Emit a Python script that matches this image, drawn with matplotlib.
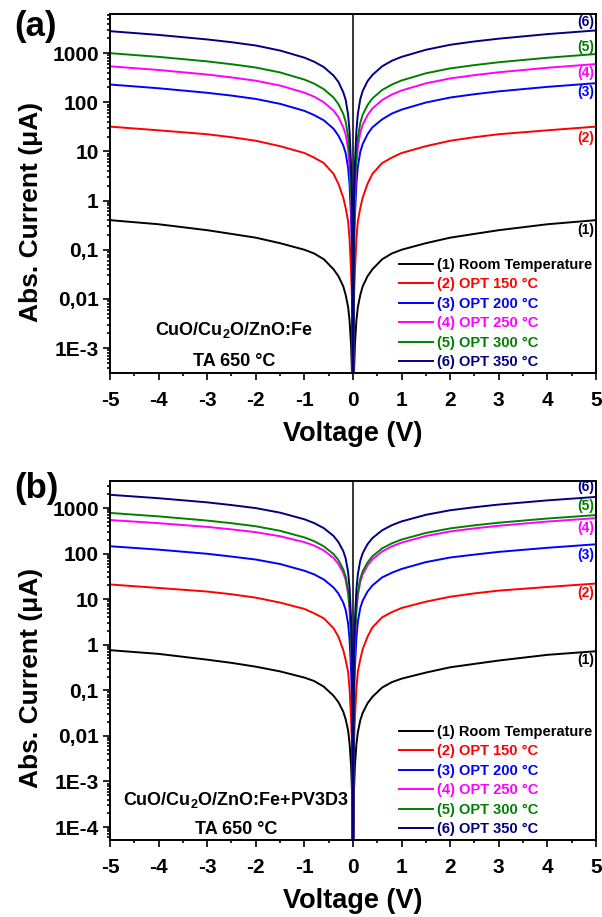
"""Abs. current vs voltage for CuO/Cu2O/ZnO:Fe diodes, two panels."""

import matplotlib

matplotlib.use("Agg")
import matplotlib.pyplot as plt
from matplotlib.ticker import FixedLocator, FuncFormatter, LogLocator, MultipleLocator

plt.rcParams["font.family"] = ["Liberation Sans", "DejaVu Sans"]
plt.rcParams["font.weight"] = "bold"
plt.rcParams["mathtext.fontset"] = "custom"
plt.rcParams["mathtext.rm"] = "Liberation Sans:bold"
plt.rcParams["mathtext.bf"] = "Liberation Sans:bold"
plt.rcParams["mathtext.default"] = "bf"

# ---- data -----------------------------------------------------------------
voltage = [-5, -4, -3, -2.5, -2, -1.5, -1, -0.8, -0.6, -0.4, -0.3, -0.2, -0.15,
           -0.1, -0.07, -0.04, -0.02,
           0,
           0.02, 0.04, 0.07, 0.1, 0.15, 0.2, 0.3, 0.4, 0.6, 0.8, 1, 1.5, 2,
           2.5, 3, 4, 5]

labels = ["(1) Room Temperature", "(2) OPT 150 °C", "(3) OPT 200 °C",
          "(4) OPT 250 °C", "(5) OPT 300 °C", "(6) OPT 350 °C"]
tags = ["(1)", "(2)", "(3)", "(4)", "(5)", "(6)"]

# panel (a): CuO/Cu2O/ZnO:Fe, current in uA
a_rt = [0.40, 0.33, 0.25, 0.21, 0.176, 0.136, 0.10, 0.084, 0.064, 0.04, 0.029,
        0.018, 0.012, 0.0068, 0.0036, 0.0012, 0.0003,
        1e-6,
        0.0003, 0.0012, 0.0036, 0.0068, 0.012, 0.018, 0.029, 0.04, 0.064,
        0.084, 0.10, 0.136, 0.176, 0.21, 0.25, 0.33, 0.40]
a_150 = [32, 26.9, 22.4, 19.5, 16.5, 12.8, 9.3, 7.5, 5.8, 3.5, 2.2, 1.15, 0.7,
         0.38, 0.16, 0.038, 0.01,
         1e-6,
         0.01, 0.038, 0.16, 0.38, 0.7, 1.15, 2.2, 3.5, 5.8, 7.5, 9.3, 12.8,
         16.5, 19.5, 22.4, 26.9, 32]
a_200 = [230, 193, 156, 137, 117, 93, 67, 55, 43, 29, 21, 13.3, 9.2, 4.6, 2.1,
         0.46, 0.09,
         1e-6,
         0.1, 0.49, 2.2, 4.9, 9.8, 14.2, 22.5, 31, 45, 59, 71, 99, 125, 146,
         167, 206, 245]
a_250 = [540, 454, 367, 321, 275, 219, 157, 130, 100, 68, 50, 31, 22, 11, 4.9,
         1.1, 0.22,
         1e-6,
         0.24, 1.2, 5.4, 12, 24, 35, 55, 75, 111, 144, 174, 243, 306, 357,
         408, 504, 600]
a_300 = [1000, 840, 680, 595, 510, 405, 290, 240, 185, 125, 92, 58, 40, 20, 9,
         2, 0.4,
         1e-6,
         0.38, 1.9, 8.6, 19, 38, 56, 88, 120, 178, 230, 278, 389, 490, 571,
         653, 806, 960]
a_350 = [2800, 2350, 1900, 1670, 1430, 1130, 810, 670, 520, 350, 260, 160, 112,
         56, 25, 5.6, 1.1,
         1e-6,
         1.2, 5.8, 26, 58, 116, 170, 270, 360, 540, 700, 840, 1170, 1480, 1730,
         1970, 2440, 2900]

# panel (b): CuO/Cu2O/ZnO:Fe+PV3D3, current in uA
b_rt = [0.76, 0.63, 0.47, 0.40, 0.33, 0.26, 0.19, 0.16, 0.12, 0.076, 0.055,
        0.034, 0.023, 0.013, 0.0068, 0.0023, 0.0006,
        1e-6,
        0.0006, 0.0022, 0.0065, 0.012, 0.022, 0.032, 0.052, 0.072, 0.115,
        0.151, 0.18, 0.245, 0.32, 0.38, 0.45, 0.60, 0.72]
b_150 = [21, 17.6, 14.7, 12.8, 10.8, 8.4, 6.1, 4.9, 3.8, 2.3, 1.5, 0.76, 0.46,
         0.25, 0.105, 0.025, 0.0063,
         1e-6,
         0.0066, 0.026, 0.11, 0.26, 0.48, 0.8, 1.5, 2.4, 4.0, 5.2, 6.4, 8.8,
         11.3, 13.4, 15.4, 18.5, 22]
b_200 = [145, 122, 99, 86, 74, 59, 42, 35, 27, 18, 13.3, 8.4, 5.8, 2.9, 1.3,
         0.29, 0.058,
         1e-6,
         0.064, 0.32, 1.4, 3.2, 6.4, 9.3, 14.7, 20, 30, 38, 46, 65, 82, 95,
         109, 134, 160]
b_250 = [545, 465, 385, 340, 295, 240, 178, 150, 117, 80, 59, 38, 26, 13, 5.8,
         1.3, 0.26,
         1e-6,
         0.24, 1.2, 5.4, 12, 24, 35, 55, 75, 111, 144, 174, 243, 306, 357,
         408, 504, 600]
b_300 = [780, 655, 530, 464, 398, 316, 226, 187, 144, 97.5, 72, 45, 31, 15.6,
         7, 1.6, 0.31,
         1e-6,
         0.28, 1.4, 6.3, 14, 28, 41, 64, 87.5, 130, 168, 203, 284, 357, 417,
         476, 588, 700]
b_350 = [1950, 1640, 1330, 1160, 995, 790, 566, 468, 361, 244, 179, 113, 78,
         39, 17.6, 3.9, 0.78,
         1e-6,
         0.7, 3.5, 16, 35, 70, 102, 161, 219, 324, 420, 508, 709, 893, 1040,
         1190, 1470, 1750]

colors = ["#000000", "#ff0000", "#0000ff", "#ff00ff", "#008000", "#000080"]


def tick_text(value, pos):
    """Origin-style labels with decimal commas."""
    names = {1e-4: "1E-4", 1e-3: "1E-3", 1e-2: "0,01", 1e-1: "0,1",
             1: "1", 10: "10", 100: "100", 1000: "1000"}
    for key, name in names.items():
        if abs(value - key) < key * 1e-6:
            return name
    return ""


def draw_panel(ax, series, tag_offsets, ylim, major, sample, letter):
    for values, color, label in zip(series, colors, labels):
        ax.plot(voltage, values, color=color, lw=1.4, label=label)
    ax.axvline(0, color="black", lw=1.1, zorder=1)

    for values, color, tag, dy in zip(series, colors, tags, tag_offsets):
        ax.annotate(tag, xy=(voltage[-1], values[-1]), xytext=(-1, dy),
                    textcoords="offset points", ha="right", va="center",
                    color=color, fontsize=10, fontweight="bold")

    ax.set_yscale("log")
    ax.set_xlim(-5, 5)
    ax.set_ylim(*ylim)
    ax.xaxis.set_major_locator(MultipleLocator(1))
    ax.xaxis.set_minor_locator(MultipleLocator(0.5))
    ax.xaxis.set_major_formatter(FuncFormatter(lambda v, p: f"{v:g}"))
    ax.yaxis.set_major_locator(FixedLocator(major))
    ax.yaxis.set_minor_locator(LogLocator(base=10, subs=range(2, 10), numticks=20))
    ax.yaxis.set_major_formatter(FuncFormatter(tick_text))
    ax.tick_params(which="both", direction="out", top=False, right=False,
                   width=1.2, labelsize=15)
    ax.tick_params(which="major", length=5)
    ax.tick_params(which="minor", length=2.5)
    ax.tick_params(axis="x", which="major", pad=8)
    ax.tick_params(axis="y", which="major", pad=3)
    for spine in ax.spines.values():
        spine.set_linewidth(1.4)

    ax.set_xlabel("Voltage (V)", fontsize=19.5, fontweight="bold", labelpad=8)
    ax.set_ylabel("Abs. Current (μA)", fontsize=19, fontweight="bold")
    ax.yaxis.set_label_coords(-0.138, 0.45)

    leg = ax.legend(loc="lower right", bbox_to_anchor=(1.0, 0.0), frameon=False,
                    fontsize=10.5, handlelength=2.3, handletextpad=0.3,
                    labelspacing=0.38, borderaxespad=0.15, borderpad=0.1,
                    labelcolor="linecolor")
    for text in leg.get_texts():
        text.set_fontweight("bold")

    ax.text(sample[0], sample[1], sample[2], transform=ax.transAxes, ha="center",
            va="center", fontsize=13, fontweight="bold")
    ax.text(sample[0], sample[3], "TA 650 °C", transform=ax.transAxes, ha="center",
            va="center", fontsize=13, fontweight="bold")
    ax.text(-0.197, letter[1], letter[0], transform=ax.transAxes, ha="left",
            va="center", fontsize=25, fontweight="bold")


fig = plt.figure(figsize=(6.02, 9.17), dpi=100)
ax_a = fig.add_axes([0.1827, 0.5932, 0.8073, 0.3915])
ax_b = fig.add_axes([0.1827, 0.0840, 0.8073, 0.3915])

draw_panel(ax_a, [a_rt, a_150, a_200, a_250, a_300, a_350],
           [-7, -8.5, -6.5, -6.5, 5, 6], (3.1e-4, 6250),
           [1e-3, 1e-2, 1e-1, 1, 10, 100, 1000],
           (0.255, 0.12, r"CuO/Cu$_2$O/ZnO:Fe", 0.033), ("(a)", 0.964))
draw_panel(ax_b, [b_rt, b_150, b_200, b_250, b_300, b_350],
           [-6.5, -7, -8, -7, 6.5, 7], (5.2e-5, 3920),
           [1e-4, 1e-3, 1e-2, 1e-1, 1, 10, 100, 1000],
           (0.259, 0.111, r"CuO/Cu$_2$O/ZnO:Fe+PV3D3", 0.028), ("(b)", 0.98))

fig.savefig("out.png", dpi=100)
